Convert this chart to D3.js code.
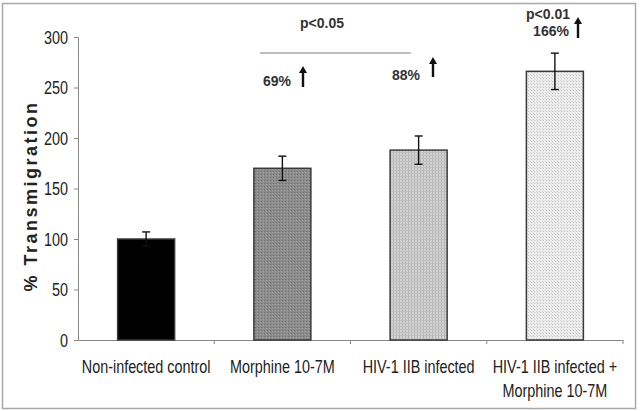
<!DOCTYPE html>
<html>
<head>
<meta charset="utf-8">
<script src="https://cdn.jsdelivr.net/npm/d3@7"></script>
<style>
  body { margin: 0; background: #fff; }
  svg { display: block; }
</style>
</head>
<body>
<div id="chart"></div>
<script>
// data
const groups = ["Non-infected control", "Morphine 10-7M", "HIV-1 IIB infected", "HIV-1 IIB infected +|Morphine 10-7M"];
const means = [100, 170, 188, 266];
const errs = [7, 12, 14, 18];
const yTicks = [0, 50, 100, 150, 200, 250, 300];

const width = 640, height = 411;
const margin = {left: 78, right: 17, top: 37, bottom: 71};

const svg = d3.select("#chart").append("svg")
  .attr("width", width)
  .attr("height", height);

// bar textures
const defs = svg.append("defs");
const p2 = defs.append("pattern").attr("id", "pat2").attr("width", 3).attr("height", 3)
  .attr("patternUnits", "userSpaceOnUse");
p2.append("rect").attr("width", 3).attr("height", 3).attr("fill", "#8c8c8c");
p2.append("rect").attr("width", 1).attr("height", 1).attr("fill", "#6e6e6e");
p2.append("rect").attr("x", 2).attr("y", 1).attr("width", 1).attr("height", 1).attr("fill", "#a4a4a4");

const p3 = defs.append("pattern").attr("id", "pat3").attr("width", 3).attr("height", 3)
  .attr("patternUnits", "userSpaceOnUse");
p3.append("rect").attr("width", 3).attr("height", 3).attr("fill", "#d2d2d2");
p3.append("rect").attr("width", 1).attr("height", 3).attr("fill", "#b4b4b4");
p3.append("rect").attr("y", 2).attr("width", 3).attr("height", 1).attr("fill", "#c2c2c2");

const p4 = defs.append("pattern").attr("id", "pat4").attr("width", 3).attr("height", 3)
  .attr("patternUnits", "userSpaceOnUse");
p4.append("rect").attr("width", 3).attr("height", 3).attr("fill", "#ececec");
p4.append("rect").attr("width", 1).attr("height", 1).attr("fill", "#c4c4c4");
p4.append("rect").attr("x", 2).attr("y", 2).attr("width", 1).attr("height", 1).attr("fill", "#d6d6d6");

const fills = ["#000", "url(#pat2)", "url(#pat3)", "url(#pat4)"];

// outer frame
svg.append("rect")
  .attr("x", 2.5).attr("y", 3.5)
  .attr("width", 633).attr("height", 405)
  .attr("fill", "none")
  .attr("stroke", "#a8a8a8")
  .attr("stroke-width", 1.5);

const x = d3.scaleBand()
  .domain(groups)
  .range([margin.left, width - margin.right])
  .paddingInner(0)
  .paddingOuter(0);

const y = d3.scaleLinear()
  .domain([0, 300])
  .range([height - margin.bottom, margin.top]);

const barW = 57;
const sans = "'Liberation Sans', Arial, sans-serif";
const squeeze = 0.8; // narrow look of the original tick font

// y axis
const yAxis = svg.append("g")
  .attr("transform", `translate(${margin.left},0)`)
  .call(d3.axisLeft(y).tickValues(yTicks).tickSize(4).tickFormat(""));
yAxis.select(".domain").attr("stroke", "#888");
yAxis.selectAll(".tick line").attr("stroke", "#888");
yAxis.selectAll(".tick").append("text")
  .attr("transform", `translate(-10,0) scale(${squeeze},1)`)
  .attr("dy", "0.36em")
  .attr("text-anchor", "end")
  .attr("font-family", sans)
  .attr("font-size", 18)
  .attr("fill", "#222")
  .text(d => d);

// x axis
const xAxis = svg.append("g")
  .attr("transform", `translate(0,${y(0)})`)
  .call(d3.axisBottom(x).tickSize(0).tickFormat(""));
xAxis.select(".domain").attr("stroke", "#888");
xAxis.selectAll(".tick").remove();
// ticks at band boundaries
const bounds = groups.map(g => x(g)).concat([x.range()[1]]);
xAxis.selectAll(".bt")
  .data(bounds.slice(1))
  .enter().append("line")
  .attr("x1", d => d).attr("x2", d => d)
  .attr("y1", 0).attr("y2", 4)
  .attr("stroke", "#888");

// category labels
const labels = svg.append("g");
groups.forEach(g => {
  const cx = x(g) + x.bandwidth() / 2;
  g.split("|").forEach((l, i) => {
    labels.append("text")
      .attr("transform", `translate(${cx},${y(0) + 33 + i * 24}) scale(${squeeze},1)`)
      .attr("text-anchor", "middle")
      .attr("font-family", sans)
      .attr("font-size", 18)
      .attr("fill", "#222")
      .text(l);
  });
});

// bars
svg.append("g").selectAll("rect")
  .data(means)
  .enter().append("rect")
  .attr("x", (d, i) => x(groups[i]) + x.bandwidth() / 2 - barW / 2)
  .attr("y", d => y(d))
  .attr("width", barW)
  .attr("height", d => y(0) - y(d))
  .attr("fill", (d, i) => fills[i])
  .attr("stroke", "#3a3a3a")
  .attr("stroke-width", 1.5);

// error bars
const eb = svg.append("g").attr("stroke", "#111").attr("stroke-width", 1.4);
means.forEach((m, i) => {
  const cx = x(groups[i]) + x.bandwidth() / 2;
  eb.append("line").attr("x1", cx).attr("x2", cx)
    .attr("y1", y(m + errs[i])).attr("y2", y(m - errs[i]));
  eb.append("line").attr("x1", cx - 4).attr("x2", cx + 4)
    .attr("y1", y(m + errs[i])).attr("y2", y(m + errs[i]));
  eb.append("line").attr("x1", cx - 4).attr("x2", cx + 4)
    .attr("y1", y(m - errs[i])).attr("y2", y(m - errs[i]));
});

// y title
svg.append("text")
  .attr("transform", "translate(37,196) rotate(-90)")
  .attr("text-anchor", "middle")
  .attr("font-family", sans)
  .attr("font-weight", "bold")
  .attr("font-size", 18)
  .attr("letter-spacing", 2.5)
  .attr("fill", "#222")
  .text("% Transmigration");

// annotations
const ann = svg.append("g")
  .attr("font-family", sans)
  .attr("font-weight", "bold")
  .attr("font-size", 14)
  .attr("fill", "#333");

ann.append("text").attr("x", 322).attr("y", 28).attr("text-anchor", "middle").text("p<0.05");
svg.append("line")
  .attr("x1", 260).attr("x2", 411)
  .attr("y1", 53).attr("y2", 53)
  .attr("stroke", "#aaa").attr("stroke-width", 1.5);

ann.append("text").attr("x", 277).attr("y", 86).attr("text-anchor", "middle").text("69%");
ann.append("text").attr("x", 406).attr("y", 80).attr("text-anchor", "middle").text("88%");
ann.append("text").attr("x", 548).attr("y", 19).attr("text-anchor", "middle").text("p<0.01");
ann.append("text").attr("x", 551).attr("y", 36).attr("text-anchor", "middle").text("166%");

// up arrows
function arrow(ax, top, bottom) {
  svg.append("line")
    .attr("x1", ax).attr("x2", ax)
    .attr("y1", top + 5).attr("y2", bottom)
    .attr("stroke", "#111").attr("stroke-width", 2.4);
  svg.append("path")
    .attr("d", `M${ax - 4},${top + 7}L${ax},${top}L${ax + 4},${top + 7}Z`)
    .attr("fill", "#111");
}
arrow(303, 66, 87);
arrow(433, 57, 77);
arrow(578, 17, 38);
</script>
</body>
</html>
